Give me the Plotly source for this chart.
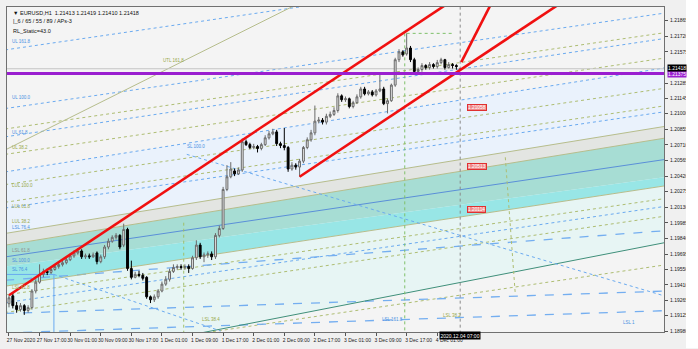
import plotly.graph_objects as go

# ---------------- data (EURUSD, H1, 27 Nov 2020 09:00 .. 4 Dec 2020 07:00) ----------------
OPEN = [1.19234, 1.19307, 1.19216, 1.19180, 1.19216, 1.19171, 1.19198, 1.19352, 1.19434, 1.19507,
        1.19534, 1.19525, 1.19552, 1.19579, 1.19597, 1.19615, 1.19643, 1.19679, 1.19706, 1.19724,
        1.19670, 1.19679, 1.19670, 1.19706, 1.19625, 1.19670, 1.19761, 1.19815, 1.19851, 1.19869,
        1.19779, 1.19924, 1.19561, 1.19479, 1.19507, 1.19498, 1.19479, 1.19298, 1.19271, 1.19298,
        1.19352, 1.19416, 1.19461, 1.19534, 1.19570, 1.19579, 1.19570, 1.19579, 1.19561, 1.19661,
        1.19779, 1.19670, 1.19688, 1.19697, 1.19670, 1.19869, 1.19933, 1.20296, 1.20414, 1.20468,
        1.20441, 1.20477, 1.20740, 1.20713, 1.20686, 1.20695, 1.20677, 1.20713, 1.20776, 1.20813,
        1.20831, 1.20722, 1.20704, 1.20686, 1.20486, 1.20522, 1.20504, 1.20559, 1.20686, 1.20758,
        1.20822, 1.20931, 1.20940, 1.20922, 1.20976, 1.20994, 1.21030, 1.21166, 1.21130, 1.21139,
        1.21067, 1.21103, 1.21157, 1.21230, 1.21185, 1.21203, 1.21175, 1.21212, 1.21230, 1.21094,
        1.21121, 1.21266, 1.21502, 1.21575, 1.21556, 1.21611, 1.21502, 1.21393, 1.21411, 1.21448,
        1.21429, 1.21457, 1.21439, 1.21475, 1.21502, 1.21429, 1.21457, 1.21448, 1.21413]
HIGH = [1.19320, 1.19330, 1.19250, 1.19240, 1.19230, 1.19220, 1.19370, 1.19460, 1.19600, 1.19560,
        1.19560, 1.19570, 1.19600, 1.19620, 1.19640, 1.19660, 1.19700, 1.19730, 1.19750, 1.19740,
        1.19700, 1.19700, 1.19710, 1.19720, 1.19690, 1.19780, 1.19840, 1.19870, 1.19890, 1.19880,
        1.19978, 1.19940, 1.19634, 1.19530, 1.19540, 1.19520, 1.19490, 1.19310, 1.19320, 1.19370,
        1.19440, 1.19490, 1.19560, 1.19600, 1.19600, 1.19600, 1.19600, 1.19600, 1.19680, 1.19824,
        1.19800, 1.19710, 1.19720, 1.19720, 1.19890, 1.19960, 1.20320, 1.20522, 1.20550, 1.20490,
        1.20500, 1.20770, 1.20760, 1.20730, 1.20720, 1.20710, 1.20730, 1.20800, 1.20840, 1.20860,
        1.20850, 1.20740, 1.20867, 1.20700, 1.20550, 1.20540, 1.20580, 1.20700, 1.20780, 1.20850,
        1.21076, 1.20970, 1.20960, 1.21000, 1.21020, 1.21060, 1.21190, 1.21180, 1.21160, 1.21150,
        1.21120, 1.21180, 1.21250, 1.21250, 1.21220, 1.21220, 1.21230, 1.21384, 1.21250, 1.21140,
        1.21280, 1.21520, 1.21600, 1.21590, 1.21747, 1.21630, 1.21520, 1.21430, 1.21470, 1.21460,
        1.21480, 1.21470, 1.21500, 1.21520, 1.21510, 1.21480, 1.21470, 1.21460, 1.21419]
LOW = [1.19200, 1.19190, 1.19150, 1.19160, 1.19130, 1.19150, 1.19180, 1.19330, 1.19420, 1.19480,
       1.19500, 1.19510, 1.19540, 1.19560, 1.19580, 1.19600, 1.19630, 1.19660, 1.19690, 1.19650,
       1.19650, 1.19650, 1.19660, 1.19600, 1.19610, 1.19650, 1.19740, 1.19800, 1.19830, 1.19740,
       1.19760, 1.19540, 1.19460, 1.19470, 1.19480, 1.19450, 1.19280, 1.19240, 1.19250, 1.19280,
       1.19340, 1.19400, 1.19440, 1.19520, 1.19550, 1.19550, 1.19550, 1.19520, 1.19550, 1.19640,
       1.19650, 1.19620, 1.19660, 1.19640, 1.19650, 1.19850, 1.19920, 1.20280, 1.20400, 1.20420,
       1.20430, 1.20460, 1.20700, 1.20670, 1.20670, 1.20640, 1.20660, 1.20700, 1.20760, 1.20800,
       1.20700, 1.20680, 1.20660, 1.20460, 1.20470, 1.20480, 1.20414, 1.20540, 1.20670, 1.20740,
       1.20800, 1.20910, 1.20900, 1.20900, 1.20960, 1.20980, 1.21010, 1.21110, 1.21110, 1.21050,
       1.21050, 1.21090, 1.21140, 1.21170, 1.21170, 1.21160, 1.21160, 1.21200, 1.21080, 1.21003,
       1.21110, 1.21250, 1.21480, 1.21530, 1.21540, 1.21480, 1.21370, 1.21370, 1.21390, 1.21410,
       1.21410, 1.21420, 1.21420, 1.21460, 1.21410, 1.21420, 1.21420, 1.21410, 1.21410]
CLOSE = [1.19289, 1.19216, 1.19180, 1.19216, 1.19171, 1.19198, 1.19352, 1.19434, 1.19507, 1.19534,
         1.19525, 1.19552, 1.19579, 1.19597, 1.19615, 1.19643, 1.19679, 1.19706, 1.19724, 1.19670,
         1.19679, 1.19670, 1.19688, 1.19625, 1.19670, 1.19761, 1.19815, 1.19851, 1.19869, 1.19761,
         1.19924, 1.19561, 1.19479, 1.19507, 1.19498, 1.19470, 1.19298, 1.19271, 1.19298, 1.19352,
         1.19416, 1.19461, 1.19534, 1.19570, 1.19579, 1.19570, 1.19579, 1.19561, 1.19661, 1.19779,
         1.19670, 1.19688, 1.19697, 1.19670, 1.19869, 1.19933, 1.20296, 1.20414, 1.20486, 1.20441,
         1.20477, 1.20740, 1.20713, 1.20686, 1.20695, 1.20677, 1.20713, 1.20776, 1.20813, 1.20831,
         1.20722, 1.20704, 1.20686, 1.20486, 1.20522, 1.20504, 1.20559, 1.20686, 1.20758, 1.20822,
         1.20931, 1.20940, 1.20922, 1.20976, 1.20994, 1.21030, 1.21166, 1.21130, 1.21139, 1.21067,
         1.21103, 1.21157, 1.21230, 1.21185, 1.21203, 1.21175, 1.21212, 1.21230, 1.21094, 1.21121,
         1.21266, 1.21502, 1.21575, 1.21547, 1.21611, 1.21502, 1.21393, 1.21411, 1.21448, 1.21429,
         1.21457, 1.21439, 1.21475, 1.21502, 1.21429, 1.21457, 1.21448, 1.21439, 1.21418]

X_TICK_POS = [0, 8, 16, 24, 32, 40, 48, 56, 64, 72, 80, 88, 96, 104, 112]
X_TICK_TEXT = ["27 Nov 2020", "27 Nov 17:00", "30 Nov 01:00", "30 Nov 09:00", "30 Nov 17:00",
               "1 Dec 01:00", "1 Dec 09:00", "1 Dec 17:00", "2 Dec 01:00", "2 Dec 09:00",
               "2 Dec 17:00", "3 Dec 01:00", "3 Dec 09:00", "3 Dec 17:00", "4 Dec 01:00"]
Y_TICKS = [1.21865, 1.21720, 1.21575, 1.21285, 1.21145, 1.21000, 1.20855, 1.20710, 1.20565,
           1.20420, 1.20275, 1.20130, 1.19985, 1.19840, 1.19695, 1.19550, 1.19410, 1.19265,
           1.19125, 1.18980]

BID = 1.21418
LEVEL = 1.21375
HEADER = ["\u25bc EURUSD,H1  1.21413 1.21419 1.21410 1.21418",
          "|_6 / 65 / 55 / 89 / APs-3",
          "RL_Static=43.0"]

# channel lines: price at left-edge bar and right-edge bar
CH_X = [-1.0, 172.0]
CH_BLUE_TOP = [1.20459, 1.21429]
CH_GRAY_TOP = [1.19887, 1.20885]
CH_TEAL_TOP = [1.19778, 1.20776]
CH_TEAL_MID = [1.19669, 1.20577]
CH_CYAN_TOP = [1.19579, 1.20413]
CH_CYAN_BOT = [1.19397, 1.20332]
CH_GREEN = [1.18608, 1.19805]
BLUE_DOT = [[1.21593, 1.22491], [1.21048, 1.21938], [1.20785, 1.21702],
            [1.20123, 1.21021], [1.19243, 1.20141]]
OLIVE_DOT = [[1.20858, 1.21756], [1.20622, 1.21520], [1.20341, 1.21239], [1.20177, 1.21076],
             [1.19315, 1.20214], [1.19152, 1.20050], [1.18689, 1.19597]]
BLUE_DASH = [[1.19452, 1.19914], [1.18962, 1.19170], [1.19143, 1.19352]]
UTL_X = [-1.0, 84.1]
UTL_Y = [1.20663, 1.22173]
ML_X = [46.5, 172.0]
ML_Y = [1.20622, 1.19300]
BOX_X = [-1.0, 11.75]
BOX_Y = 1.19506
BOX_DOT_X = [11.75, 55.4]
BOX_DOT_Y = [1.19506, 1.18980]
VDOT1 = [45.7, 1.19987]
VDOT2 = [103.5, 1.21747]
HIGH_DOT_X = [104.0, 116.0]
SLANT_X = [129.8, 132.4]
SLANT_Y = [1.20595, 1.19325]

RED_UP_X = [0.0, 125.0]
RED_UP_Y = [1.19313, 1.22267]
RED_LO_X = [76.0, 150.0]
RED_LO_Y = [1.20414, 1.22163]
RED_ST_X = [118.3, 128.0]
RED_ST_Y = [1.21480, 1.22155]

RED_TAGS = [(1.21058, "1.21058"), (1.20513, "1.20513"), (1.20114, "1.20114")]
LINE_LABELS = [(0.3, 1.21629, "UL 161.8", "#4a90e2"), (0.3, 1.21112, "UL 100.0", "#4a90e2"),
               (0.3, 1.20785, "UL 61.8", "#4a90e2"), (0.3, 1.20640, "UL 38.2", "#98a84a"),
               (39.7, 1.21457, "UTL 161.8", "#98a84a"), (0.3, 1.20295, "LUL 100.0", "#98a84a"),
               (0.3, 1.20096, "LUL 61.8", "#98a84a"), (0.3, 1.19960, "LUL 38.2", "#98a84a"),
               (0.3, 1.19905, "LSL 76.4", "#4a90e2"), (0.3, 1.19688, "LSL 61.8", "#909090"),
               (0.3, 1.19597, "SL 100.0", "#4a90e2"), (0.3, 1.19510, "SL 76.4", "#4a90e2"),
               (0.3, 1.19340, "LSL 61.8", "#98a84a"), (46.0, 1.20650, "SL 100.0", "#4a90e2"),
               (50.0, 1.19050, "LSL 38.4", "#98a84a"), (97.0, 1.19050, "LSL 161.8", "#4a90e2"),
               (113.0, 1.19080, "LSL 38.2", "#98a84a"), (160.0, 1.19020, "LSL 1", "#4a90e2")]

# ---------------- figure ----------------
FONT = "Liberation Sans Narrow, Arial Narrow, Liberation Sans, Arial"
fig = go.Figure()
shapes = []


def band(top, bot, color):
    path = (f"M {CH_X[0]},{top[0]} L {CH_X[1]},{top[1]} "
            f"L {CH_X[1]},{bot[1]} L {CH_X[0]},{bot[0]} Z")
    shapes.append(dict(type="path", xref="x", yref="y", path=path, fillcolor=color,
                       line=dict(width=0), layer="below"))


def seg(xs, ys, color, width=1, dash="solid"):
    shapes.append(dict(type="line", xref="x", yref="y", x0=xs[0], x1=xs[1], y0=ys[0], y1=ys[1],
                       line=dict(color=color, width=width, dash=dash), layer="below"))


def top_line(xs, ys, color, width):
    fig.add_trace(go.Scatter(x=xs, y=ys, mode="lines", line=dict(color=color, width=width),
                             hoverinfo="skip", showlegend=False, cliponaxis=True))


band(CH_BLUE_TOP, CH_GRAY_TOP, "#eaf2fc")
band(CH_GRAY_TOP, CH_TEAL_TOP, "#e3e5e2")
band(CH_TEAL_TOP, CH_CYAN_TOP, "#a7ddd4")
band(CH_CYAN_TOP, CH_CYAN_BOT, "#98e6e6")
band(CH_CYAN_BOT, CH_GREEN, "#e7f5f4")

for ln in BLUE_DOT:
    seg(CH_X, ln, "#6aaaf0", 1, "dot")
for ln in OLIVE_DOT:
    seg(CH_X, ln, "#aebd72", 1, "dot")
for ln in BLUE_DASH:
    seg(CH_X, ln, "#74aef0", 1.3, "dash")
seg(CH_X, CH_BLUE_TOP, "#6aaaf0", 1, "dot")
seg(CH_X, CH_GRAY_TOP, "#b6bd8c", 1)
seg(CH_X, CH_TEAL_TOP, "#b6bd8c", 1)
seg(CH_X, CH_TEAL_MID, "#5a8fd8", 1)
seg(CH_X, CH_CYAN_BOT, "#b6bd8c", 1)
seg(CH_X, CH_GREEN, "#3f8f7a", 1)
seg(UTL_X, UTL_Y, "#b6bd8c", 1)
seg(ML_X, ML_Y, "#6aaaf0", 1, "dot")
seg(BOX_X, [BOX_Y, BOX_Y], "#6aaaf0", 1)
seg([BOX_X[1], BOX_X[1]], [BOX_Y, 1.18900], "#6aaaf0", 1)
seg(BOX_DOT_X, BOX_DOT_Y, "#6aaaf0", 1, "dot")
seg([VDOT1[0], VDOT1[0]], [VDOT1[1], 1.18900], "#9fbf6a", 1, "dot")
seg([VDOT2[0], VDOT2[0]], [VDOT2[1], 1.18900], "#7fc06a", 1, "dot")
seg(HIGH_DOT_X, [VDOT2[1], VDOT2[1]], "#7fc06a", 1, "dot")
seg(SLANT_X, SLANT_Y, "#aebd72", 1, "dot")
seg(CH_X, [BID, BID], "#c4c4c4", 1)
seg([len(CLOSE) - 1, len(CLOSE) - 1], [1.18900, 1.22100], "#8a8a8a", 1, "dot")

fig.add_trace(go.Candlestick(
    x=list(range(len(CLOSE))), open=OPEN, high=HIGH, low=LOW, close=CLOSE,
    increasing=dict(line=dict(color="#6a6a6a", width=1), fillcolor="#e6e6e6"),
    decreasing=dict(line=dict(color="#000000", width=1), fillcolor="#000000"),
    whiskerwidth=0, hoverinfo="skip", showlegend=False))

top_line(RED_UP_X, RED_UP_Y, "#f01010", 2.6)
top_line(RED_LO_X, RED_LO_Y, "#f01010", 2.6)
top_line(RED_ST_X, RED_ST_Y, "#f01010", 2.6)
top_line(CH_X, [LEVEL, LEVEL], "#9a1fd0", 3)

shapes.append(dict(type="rect", xref="paper", yref="paper", x0=1.0334, x1=1.06, y0=-0.05, y1=1.05,
                   fillcolor="#ffffff", line=dict(width=0), layer="above"))

ann = []
for i, t in enumerate(HEADER):
    ann.append(dict(xref="paper", yref="paper", x=0.006, y=1 - (6 + 8 * i + (3 if i == 2 else 0)) / 333,
                    text=t, showarrow=False, xanchor="left", yanchor="middle",
                    font=dict(family=FONT, size=5.5, color="#101010")))
for xv, yv, t, c in LINE_LABELS:
    ann.append(dict(x=xv, y=yv, text=t, showarrow=False, xanchor="left", yanchor="bottom",
                    font=dict(family=FONT, size=4.5, color=c)))
for yv, t in RED_TAGS:
    ann.append(dict(x=119.8, y=yv, text=t, showarrow=False, xanchor="left", yanchor="middle",
                    bgcolor="#f08a8a", bordercolor="#e03030", borderwidth=1, borderpad=0,
                    font=dict(family=FONT, size=4.8, color="#ffffff")))
ann.append(dict(xref="paper", x=1.0045, y=LEVEL, yshift=-1, text="1.21375", showarrow=False,
                xanchor="left", yanchor="middle", bgcolor="#9a1fd0", borderpad=0,
                font=dict(family=FONT, size=5, color="#ffffff")))
ann.append(dict(xref="paper", x=1.0045, y=BID, yshift=1, text="1.21418", showarrow=False,
                xanchor="left", yanchor="middle", bgcolor="#000000", borderpad=0,
                font=dict(family=FONT, size=5, color="#ffffff")))
ann.append(dict(x=len(CLOSE) - 1, yref="paper", y=-0.012, text="2020.12.04 07:00", showarrow=False,
                xanchor="center", yanchor="middle", bgcolor="#000000", borderpad=0.5,
                font=dict(family=FONT, size=5, color="#ffffff")))

fig.update_layout(
    width=698, height=349, margin=dict(l=6, r=34, t=6, b=10),
    paper_bgcolor="#f0f0f0", plot_bgcolor="#f4f4f4", showlegend=False,
    annotations=ann, shapes=shapes,
    xaxis=dict(range=[-0.52, 171.3], rangeslider=dict(visible=False), showgrid=False, zeroline=False,
               tickvals=X_TICK_POS, ticktext=X_TICK_TEXT, ticks="outside", ticklen=3, tickangle=0,
               tickcolor="#555", ticklabelshift=12, ticklabelstandoff=0,
               tickfont=dict(family=FONT, size=5, color="#202020"),
               showline=True, linecolor="#707070", linewidth=1, mirror=True),
    yaxis=dict(range=[1.18971, 1.21992], side="right", showgrid=False, zeroline=False,
               tickvals=Y_TICKS, ticktext=[f"{v:.5f}" for v in Y_TICKS], ticks="outside",
               ticklen=3, tickcolor="#555", ticklabelstandoff=1,
               tickfont=dict(family=FONT, size=5, color="#202020"),
               showline=True, linecolor="#707070", linewidth=1, mirror=True),
)

fig.write_html("out.html")
